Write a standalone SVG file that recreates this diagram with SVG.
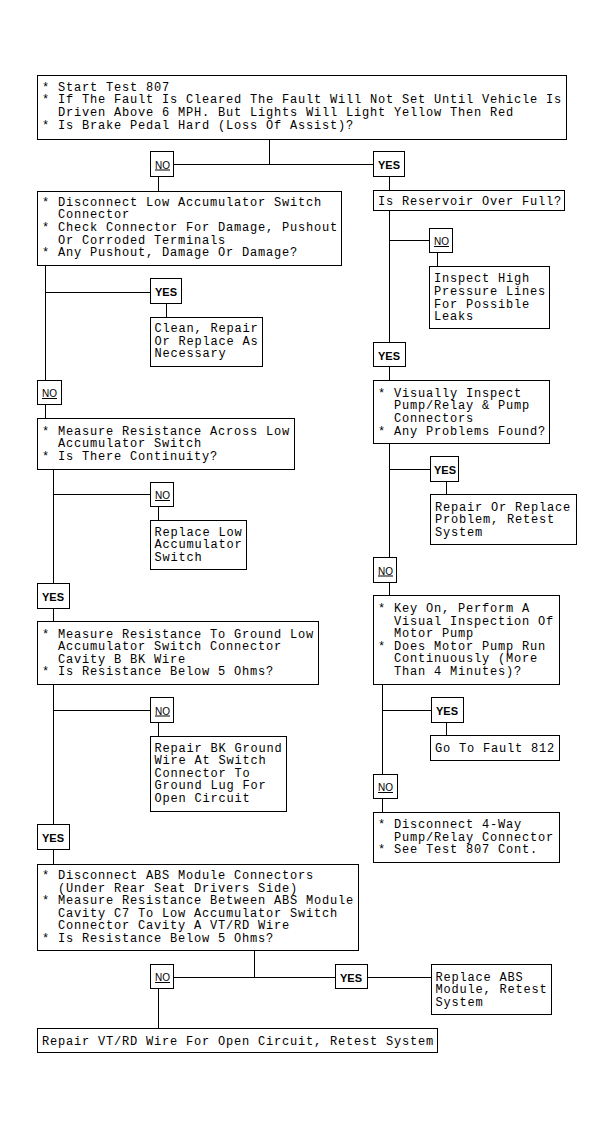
<svg xmlns="http://www.w3.org/2000/svg" width="612" height="1129" viewBox="0 0 612 1129">
<style>
rect{fill:#fff;stroke:#000;stroke-width:1;shape-rendering:crispEdges}
line{stroke:#000;stroke-width:1;shape-rendering:crispEdges}
.t{font-family:"Liberation Mono","DejaVu Sans Mono",monospace;font-size:12px;letter-spacing:0.8px;fill:#000}
.no{font-family:"Liberation Sans",Arial,sans-serif;font-size:10px;fill:#000;text-decoration:underline}
.yes{font-family:"Liberation Sans",Arial,sans-serif;font-size:11px;font-weight:bold;fill:#000}
</style>
<rect x="0" y="0" width="612" height="1129" style="stroke:none"/>
<g id="connectors">
<line x1="269.5" y1="140" x2="269.5" y2="164.5"/>
<line x1="174" y1="164.5" x2="373" y2="164.5"/>
<line x1="158.5" y1="177" x2="158.5" y2="191"/>
<line x1="389.5" y1="177" x2="389.5" y2="190"/>
<line x1="389.5" y1="210" x2="389.5" y2="343"/>
<line x1="389.5" y1="240.5" x2="429" y2="240.5"/>
<line x1="437.5" y1="253" x2="437.5" y2="267"/>
<line x1="389.5" y1="367" x2="389.5" y2="381"/>
<line x1="389.5" y1="444" x2="389.5" y2="557"/>
<line x1="389.5" y1="469.5" x2="430" y2="469.5"/>
<line x1="446.5" y1="482" x2="446.5" y2="494"/>
<line x1="389.5" y1="583" x2="389.5" y2="596"/>
<line x1="382.5" y1="685" x2="382.5" y2="774"/>
<line x1="382.5" y1="710.5" x2="431" y2="710.5"/>
<line x1="446.5" y1="723" x2="446.5" y2="735"/>
<line x1="382.5" y1="799" x2="382.5" y2="812"/>
<line x1="45.5" y1="266" x2="45.5" y2="381"/>
<line x1="45.5" y1="292.5" x2="150" y2="292.5"/>
<line x1="166.5" y1="304" x2="166.5" y2="318"/>
<line x1="45.5" y1="405" x2="45.5" y2="418"/>
<line x1="53.5" y1="470" x2="53.5" y2="583"/>
<line x1="53.5" y1="494.5" x2="150" y2="494.5"/>
<line x1="158.5" y1="507" x2="158.5" y2="520"/>
<line x1="53.5" y1="609" x2="53.5" y2="622"/>
<line x1="53.5" y1="685" x2="53.5" y2="824"/>
<line x1="53.5" y1="710.5" x2="150" y2="710.5"/>
<line x1="158.5" y1="723" x2="158.5" y2="737"/>
<line x1="53.5" y1="850" x2="53.5" y2="864"/>
<line x1="254.5" y1="951" x2="254.5" y2="977.5"/>
<line x1="174" y1="977.5" x2="335" y2="977.5"/>
<line x1="368" y1="977.5" x2="431" y2="977.5"/>
<line x1="158.5" y1="989" x2="158.5" y2="1028"/>
</g>
<g id="n-start">
<rect x="37.5" y="75.5" width="529" height="64"/>
<text class="t"><tspan x="42" y="90.7">* Start Test 807</tspan><tspan x="42" y="103.3">* If The Fault Is Cleared The Fault Will Not Set Until Vehicle Is</tspan><tspan x="58" y="115.9">Driven Above 6 MPH. But Lights Will Light Yellow Then Red</tspan><tspan x="42" y="128.5">* Is Brake Pedal Hard (Loss Of Assist)?</tspan></text>
</g>
<g id="l-no1"><rect x="150.5" y="151.5" width="23" height="25"/><text class="no" x="155" y="168.5">NO</text></g>
<g id="l-yes1"><rect x="373.5" y="151.5" width="31" height="25"/><text class="yes" x="378" y="169">YES</text></g>
<g id="n-disconnect-low">
<rect x="37.5" y="191.5" width="304" height="74"/>
<text class="t"><tspan x="42" y="205.7">* Disconnect Low Accumulator Switch</tspan><tspan x="58" y="218.3">Connector</tspan><tspan x="42" y="230.9">* Check Connector For Damage, Pushout</tspan><tspan x="58" y="243.5">Or Corroded Terminals</tspan><tspan x="42" y="256.1">* Any Pushout, Damage Or Damage?</tspan></text>
</g>
<g id="n-reservoir">
<rect x="373.5" y="190.5" width="191" height="20"/>
<text class="t" x="378" y="204.5">Is Reservoir Over Full?</text>
</g>
<g id="l-no2"><rect x="429.5" y="228.5" width="23" height="24"/><text class="no" x="434" y="245">NO</text></g>
<g id="n-inspect-high">
<rect x="429.5" y="266.5" width="120" height="62"/>
<text class="t"><tspan x="434" y="282.3">Inspect High</tspan><tspan x="434" y="294.9">Pressure Lines</tspan><tspan x="434" y="307.5">For Possible</tspan><tspan x="434" y="320.1">Leaks</tspan></text>
</g>
<g id="l-yes2"><rect x="150.5" y="278.5" width="31" height="25"/><text class="yes" x="155" y="296">YES</text></g>
<g id="n-clean">
<rect x="150.5" y="317.5" width="112" height="49"/>
<text class="t"><tspan x="154.5" y="332">Clean, Repair</tspan><tspan x="154.5" y="344.6">Or Replace As</tspan><tspan x="154.5" y="357.2">Necessary</tspan></text>
</g>
<g id="l-yes3"><rect x="373.5" y="342.5" width="32" height="24"/><text class="yes" x="378" y="359.5">YES</text></g>
<g id="l-no3"><rect x="37.5" y="380.5" width="24" height="24"/><text class="no" x="42" y="397">NO</text></g>
<g id="n-visually">
<rect x="373.5" y="380.5" width="176" height="63"/>
<text class="t"><tspan x="378" y="396.7">* Visually Inspect</tspan><tspan x="394" y="409.3">Pump/Relay &amp; Pump</tspan><tspan x="394" y="421.9">Connectors</tspan><tspan x="378" y="434.5">* Any Problems Found?</tspan></text>
</g>
<g id="n-measure-across">
<rect x="37.5" y="418.5" width="257" height="51"/>
<text class="t"><tspan x="42" y="434.5">* Measure Resistance Across Low</tspan><tspan x="58" y="447.1">Accumulator Switch</tspan><tspan x="42" y="459.7">* Is There Continuity?</tspan></text>
</g>
<g id="l-yes4"><rect x="430.5" y="456.5" width="28" height="25"/><text class="yes" x="434" y="474">YES</text></g>
<g id="l-no4"><rect x="150.5" y="482.5" width="23" height="24"/><text class="no" x="155" y="499">NO</text></g>
<g id="n-repair-replace">
<rect x="430.5" y="494.5" width="146" height="50"/>
<text class="t"><tspan x="435" y="510.5">Repair Or Replace</tspan><tspan x="435" y="523.1">Problem, Retest</tspan><tspan x="435" y="535.7">System</tspan></text>
</g>
<g id="n-replace-low">
<rect x="150.5" y="520.5" width="96" height="49"/>
<text class="t"><tspan x="154.5" y="535.5">Replace Low</tspan><tspan x="154.5" y="548.1">Accumulator</tspan><tspan x="154.5" y="560.7">Switch</tspan></text>
</g>
<g id="l-no5"><rect x="373.5" y="557.5" width="23" height="25"/><text class="no" x="378" y="574.5">NO</text></g>
<g id="l-yes5"><rect x="37.5" y="583.5" width="32" height="25"/><text class="yes" x="42" y="601">YES</text></g>
<g id="n-key-on">
<rect x="373.5" y="595.5" width="186" height="89"/>
<text class="t"><tspan x="378" y="612">* Key On, Perform A</tspan><tspan x="394" y="624.6">Visual Inspection Of</tspan><tspan x="394" y="637.2">Motor Pump</tspan><tspan x="378" y="649.8">* Does Motor Pump Run</tspan><tspan x="394" y="662.4">Continuously (More</tspan><tspan x="394" y="675">Than 4 Minutes)?</tspan></text>
</g>
<g id="n-measure-ground">
<rect x="37.5" y="621.5" width="281" height="63"/>
<text class="t"><tspan x="42" y="637.5">* Measure Resistance To Ground Low</tspan><tspan x="58" y="650.1">Accumulator Switch Connector</tspan><tspan x="58" y="662.7">Cavity B BK Wire</tspan><tspan x="42" y="675.3">* Is Resistance Below 5 Ohms?</tspan></text>
</g>
<g id="l-no6"><rect x="150.5" y="697.5" width="23" height="25"/><text class="no" x="155" y="714.5">NO</text></g>
<g id="l-yes6"><rect x="431.5" y="697.5" width="32" height="25"/><text class="yes" x="436" y="715">YES</text></g>
<g id="n-goto">
<rect x="430.5" y="735.5" width="129" height="25"/>
<text class="t" x="435" y="751.5">Go To Fault 812</text>
</g>
<g id="n-repair-bk">
<rect x="150.5" y="736.5" width="136" height="75"/>
<text class="t"><tspan x="154.5" y="751.5">Repair BK Ground</tspan><tspan x="154.5" y="764.1">Wire At Switch</tspan><tspan x="154.5" y="776.7">Connector To</tspan><tspan x="154.5" y="789.3">Ground Lug For</tspan><tspan x="154.5" y="801.9">Open Circuit</tspan></text>
</g>
<g id="l-no7"><rect x="373.5" y="774.5" width="24" height="24"/><text class="no" x="378" y="791">NO</text></g>
<g id="n-disconnect-4way">
<rect x="373.5" y="812.5" width="186" height="50"/>
<text class="t"><tspan x="378" y="828">* Disconnect 4-Way</tspan><tspan x="394" y="840.6">Pump/Relay Connector</tspan><tspan x="378" y="853.2">* See Test 807 Cont.</tspan></text>
</g>
<g id="l-yes7"><rect x="37.5" y="824.5" width="32" height="25"/><text class="yes" x="42" y="842">YES</text></g>
<g id="n-abs">
<rect x="37.5" y="864.5" width="321" height="86"/>
<text class="t"><tspan x="42" y="879">* Disconnect ABS Module Connectors</tspan><tspan x="58" y="891.6">(Under Rear Seat Drivers Side)</tspan><tspan x="42" y="904.2">* Measure Resistance Between ABS Module</tspan><tspan x="58" y="916.8">Cavity C7 To Low Accumulator Switch</tspan><tspan x="58" y="929.4">Connector Cavity A VT/RD Wire</tspan><tspan x="42" y="942">* Is Resistance Below 5 Ohms?</tspan></text>
</g>
<g id="l-no8"><rect x="150.5" y="964.5" width="23" height="24"/><text class="no" x="155" y="981">NO</text></g>
<g id="l-yes8"><rect x="335.5" y="964.5" width="32" height="24"/><text class="yes" x="340" y="981.5">YES</text></g>
<g id="n-replace-abs">
<rect x="431.5" y="964.5" width="120" height="50"/>
<text class="t"><tspan x="435.5" y="980.5">Replace ABS</tspan><tspan x="435.5" y="993.1">Module, Retest</tspan><tspan x="435.5" y="1005.7">System</tspan></text>
</g>
<g id="n-repair-vtrd">
<rect x="37.5" y="1028.5" width="400" height="24"/>
<text class="t" x="42" y="1044.5">Repair VT/RD Wire For Open Circuit, Retest System</text>
</g>
</svg>
